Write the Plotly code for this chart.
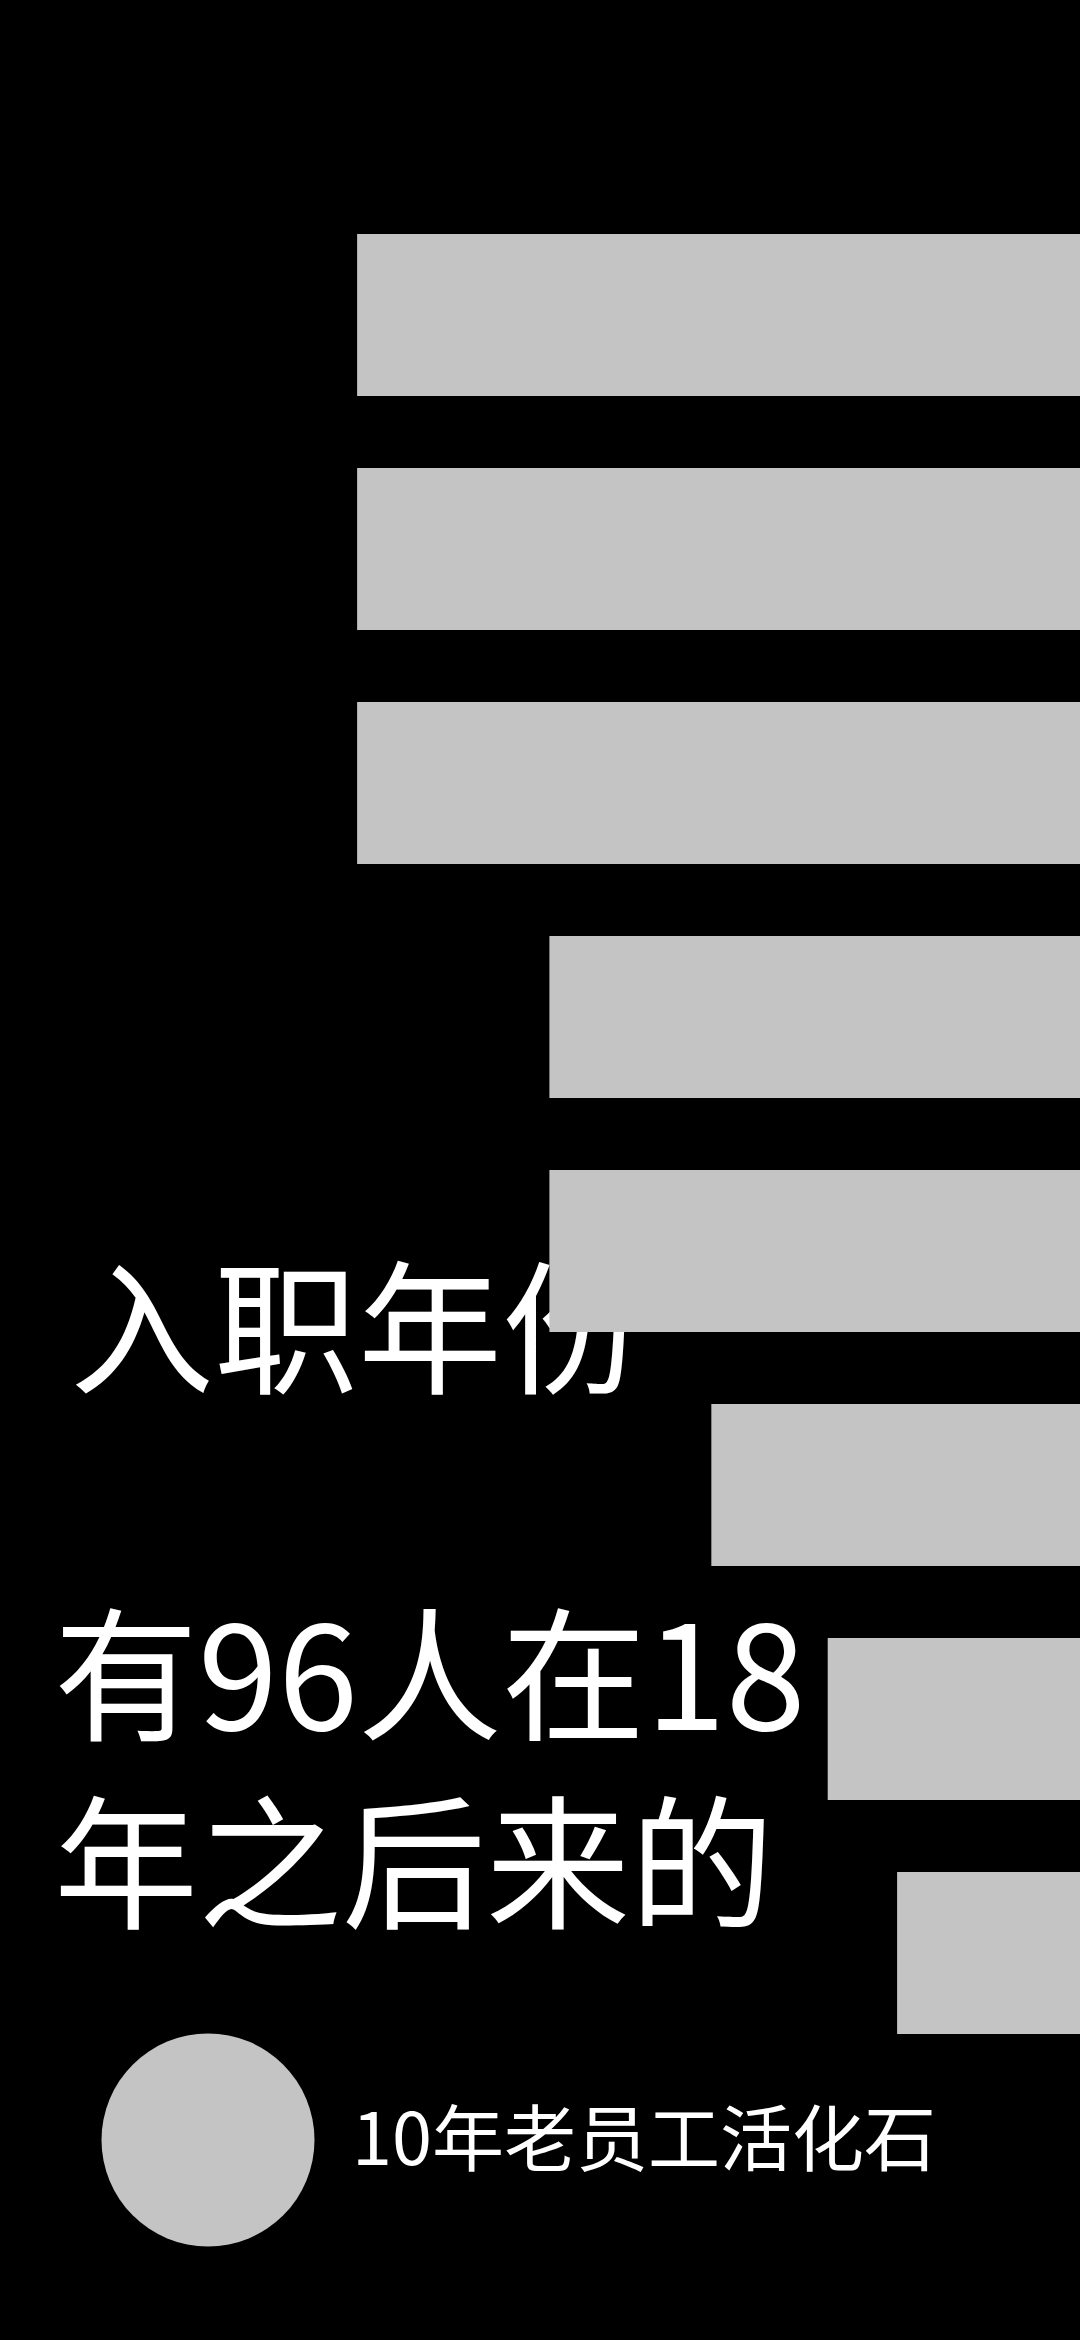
import plotly.graph_objects as go

# ---- data ----
years = ["2011", "2012", "2013", "2014", "2015", "2016", "2017", "2018"]
staff_share = [100, 100, 100, 73.4, 73.4, 51.0, 34.9, 25.3]

title_text = "入职年份"
headline_text = "有96人在18<br>年之后来的"
legend_text = "10年老员工活化石"

BG = "#000000"
BAR = "#c4c4c4"
FONT = "Noto Sans CJK SC"

fig = go.Figure()

# text layer (drawn first, under the bars)
fig.add_trace(go.Scatter(
    x=[70, 54], y=[1347, 1788],
    mode="text", text=[title_text, headline_text],
    textposition="middle right",
    textfont=dict(family=FONT, size=144, color="#ffffff"),
    hoverinfo="skip", showlegend=False,
    xaxis="x", yaxis="y",
))

# legend-like marker + label
fig.add_trace(go.Scatter(
    x=[208], y=[2140], mode="markers",
    marker=dict(size=213, color=BAR, line=dict(width=0)),
    hoverinfo="skip", showlegend=False,
    xaxis="x", yaxis="y",
))
fig.add_trace(go.Scatter(
    x=[352], y=[2147], mode="text", text=[legend_text],
    textposition="middle right",
    textfont=dict(family=FONT, size=72, color="#ffffff"),
    hoverinfo="skip", showlegend=False,
    xaxis="x", yaxis="y",
))

# bars (second subplot, drawn above text)
fig.add_trace(go.Bar(
    y=years, x=staff_share, orientation="h",
    marker=dict(color=BAR, line=dict(width=0)),
    hoverinfo="skip", showlegend=False,
    xaxis="x2", yaxis="y2",
))

fig.update_layout(
    width=1080, height=2340,
    margin=dict(l=0, r=0, t=0, b=0),
    paper_bgcolor=BG, plot_bgcolor="rgba(0,0,0,0)",
    bargap=0.3077,
    showlegend=False,
    xaxis=dict(domain=[0, 1], range=[0, 1080], visible=False, fixedrange=True),
    yaxis=dict(domain=[0, 1], range=[2340, 0], visible=False, fixedrange=True),
    xaxis2=dict(domain=[0, 1], range=[149.4, 0], visible=False, anchor="y2"),
    yaxis2=dict(domain=[0.11538, 0.91538], autorange="reversed", type="category",
                visible=False, anchor="x2"),
)

fig.write_html("out.html", config={"displayModeBar": False})
